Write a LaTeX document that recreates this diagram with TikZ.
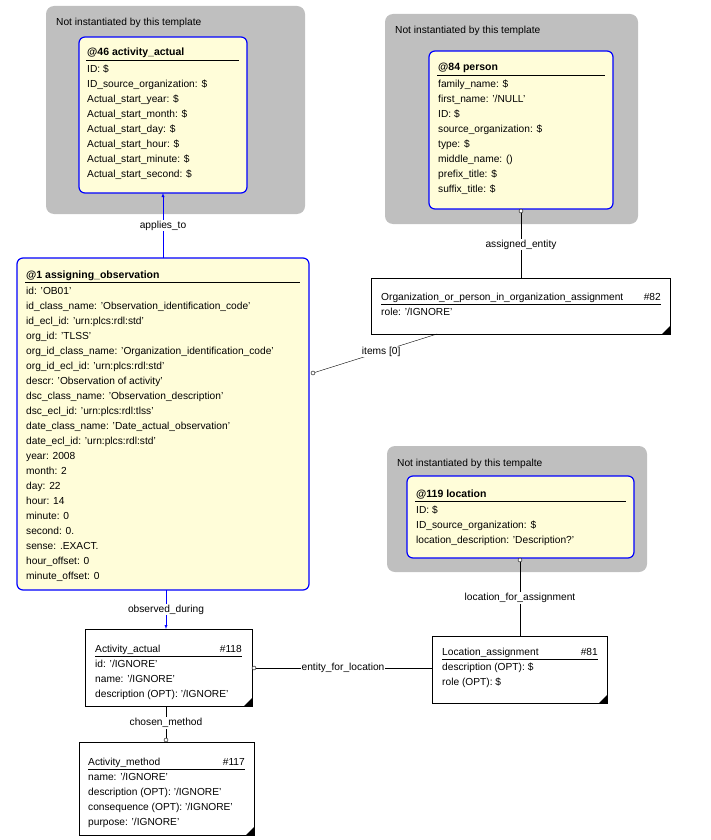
\documentclass[tikz,border=0pt]{standalone}
\usepackage{fontspec}
\setmainfont{Liberation Sans}
\usetikzlibrary{positioning}

\begin{document}
\begin{tikzpicture}[x=1pt, y=-1pt,
			group/.style={fill=black!25, draw=none, rounded corners=8pt},
			entity/.style={draw=blue, line width=1.2pt, fill=yellow!15, rounded corners=6pt},
			plain/.style={draw=black, fill=white},
			title/.style={font=\fontsize{10.5}{12}\selectfont\bfseries, anchor=base west, inner sep=0pt},
			head/.style={font=\fontsize{10.2}{12}\selectfont, anchor=base west, inner sep=0pt},
			attrs/.style={font=\fontsize{10.2}{15}\selectfont, anchor=north west, align=left, inner sep=0pt},
			lbl/.style={font=\fontsize{10.2}{12}\selectfont, text=black, fill=white, inner sep=1pt},
			glbl/.style={font=\fontsize{10.2}{12}\selectfont, anchor=base west, inner sep=0pt},
			ref/.style={blue, -latex},
			circ/.style={circle, draw, fill=white, inner sep=0pt, minimum size=4pt},
		]
		\useasboundingbox (0,0) rectangle (711,840);

		% groups
		\fill[group] (46,6) rectangle (305,214);
		\node[glbl] at (56,26) {Not instantiated by this template};
		\fill[group] (385,14) rectangle (638,224);
		\node[glbl] at (395,34) {Not instantiated by this template};
		\fill[group] (387,446) rectangle (647,572);
		\node[glbl] at (397,466) {Not instantiated by this tempalte};

		% entities
		\draw[entity] (79,37) rectangle (247,193);
		\coordinate (act46) at (163,193);
		\node[title] at (87,56) {@46 activity\_actual};
		\draw (86,60) -- (239,60);
		\node[attrs] at (87,65) {ID: \$\\ID\_source\_organization: \$\\Actual\_start\_year: \$\\Actual\_start\_month: \$\\Actual\_start\_day: \$\\Actual\_start\_hour: \$\\Actual\_start\_minute: \$\\Actual\_start\_second: \$};

		\draw[entity] (429,51) rectangle (613,209);
		\coordinate (per84) at (521,211);
		\node[title] at (438,71) {@84 person};
		\draw (437,75) -- (605,75);
		\node[attrs] at (438,80) {family\_name: \$\\first\_name: '/NULL'\\ID: \$\\source\_organization: \$\\type: \$\\middle\_name: ()\\prefix\_title: \$\\suffix\_title: \$};

		\draw[entity] (17,258) rectangle (309,590);
		\coordinate (obs1top) at (163,258);
		\coordinate (obs1bot) at (166,590);
		\coordinate (obs1r) at (313,373);
		\node[title] at (26,278) {@1 assigning\_observation};
		\draw (25,282) -- (300,282);
		\node[attrs] at (26,287) {id: 'OB01'\\id\_class\_name: 'Observation\_identification\_code'\\id\_ecl\_id: 'urn:plcs:rdl:std'\\org\_id: 'TLSS'\\org\_id\_class\_name: 'Organization\_identification\_code'\\org\_id\_ecl\_id: 'urn:plcs:rdl:std'\\descr: 'Observation of activity'\\dsc\_class\_name: 'Observation\_description'\\dsc\_ecl\_id: 'urn:plcs:rdl:tlss'\\date\_class\_name: 'Date\_actual\_observation'\\date\_ecl\_id: 'urn:plcs:rdl:std'\\year: 2008\\month: 2\\day: 22\\hour: 14\\minute: 0\\second: 0.\\sense: .EXACT.\\hour\_offset: 0\\minute\_offset: 0};

		\draw[entity] (407,476) rectangle (634,558);
		\coordinate (loc119) at (520,560);
		\node[title] at (416,497) {@119 location};
		\draw (415,501) -- (626,501);
		\node[attrs] at (416,506) {ID: \$\\ID\_source\_organization: \$\\location\_description: 'Description?'};

		% plain boxes
		\draw[plain] (371,278) rectangle (670,334);
		\fill (670,334) -- (662,334) -- (670,326) -- cycle;
		\coordinate (org82top) at (521,278);
		\coordinate (org82bot) at (437,334);
		\node[head] at (381,300) {Organization\_or\_person\_in\_organization\_assignment};
		\node[head, anchor=base east] at (661,300) {\#82};
		\draw (381,304) -- (661,304);
		\node[attrs] at (381,308) {role: '/IGNORE'};

		\draw[plain] (432,636) rectangle (607,703);
		\fill (607,703) -- (599,703) -- (607,695) -- cycle;
		\coordinate (loc81top) at (520,636);
		\coordinate (loc81l) at (432,668);
		\node[head] at (442,655) {Location\_assignment};
		\node[head, anchor=base east] at (598,655) {\#81};
		\draw (442,659) -- (598,659);
		\node[attrs] at (442,663) {description (OPT): \$\\role (OPT): \$};

		\draw[plain] (85,629) rectangle (252,706);
		\fill (252,706) -- (244,706) -- (252,698) -- cycle;
		\coordinate (act118top) at (166,629);
		\coordinate (act118bot) at (166,706);
		\coordinate (act118r) at (254,668);
		\node[head] at (95,652) {Activity\_actual};
		\node[head, anchor=base east] at (242,652) {\#118};
		\draw (95,656) -- (242,656);
		\node[attrs] at (95,660) {id: '/IGNORE'\\name: '/IGNORE'\\description (OPT): '/IGNORE'};

		\draw[plain] (79,742) rectangle (254,835);
		\fill (254,835) -- (246,835) -- (254,827) -- cycle;
		\coordinate (met117) at (166,740);
		\node[head] at (88,765) {Activity\_method};
		\node[head, anchor=base east] at (245,765) {\#117};
		\draw (88,769) -- (245,769);
		\node[attrs] at (88,773) {name: '/IGNORE'\\description (OPT): '/IGNORE'\\consequence (OPT): '/IGNORE'\\purpose: '/IGNORE'};

		% connectors
		\draw[ref] (obs1top) -- node[lbl] {applies\_to} (act46);
		\draw[ref] (obs1bot) -- node[lbl] {observed\_during} (act118top);
		\draw (org82top) -- node[lbl] {assigned\_entity} (per84);
		\node[circ] at (per84) {};
		\draw (org82bot) -- node[lbl, pos=0.45] {items [0]} (obs1r);
		\node[circ] at (obs1r) {};
		\draw (loc81top) -- node[lbl] {location\_for\_assignment} (loc119);
		\node[circ] at (loc119) {};
		\draw (loc81l) -- node[lbl] {entity\_for\_location} (act118r);
		\node[circ] at (act118r) {};
		\draw (act118bot) -- node[lbl] {chosen\_method} (met117);
		\node[circ] at (met117) {};

		\end{tikzpicture}
\end{document}
